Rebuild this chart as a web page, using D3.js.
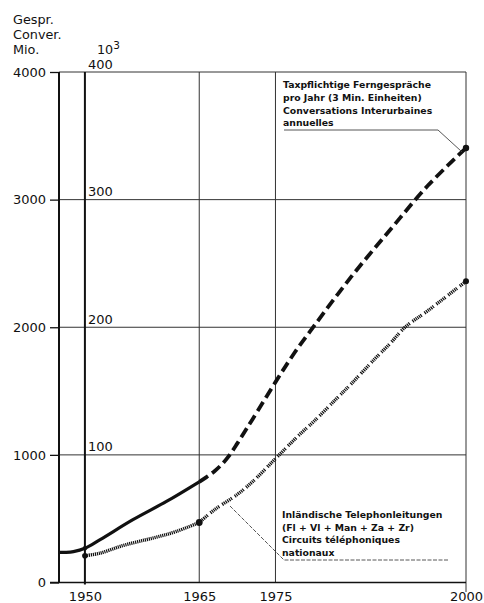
<!DOCTYPE html>
<html>
<head>
<meta charset="utf-8">
<script src="https://cdn.jsdelivr.net/npm/d3@7/dist/d3.min.js"></script>
<style>
  html, body { margin: 0; padding: 0; background: #fff; }
  svg { display: block; }
  text { font-family: "DejaVu Sans", sans-serif; fill: #111; }
</style>
</head>
<body>
<svg id="chart" width="484" height="603"></svg>
<script>
// ---------- data ----------
const convYears = [1946.6, 1947.5, 1948.5, 1950, 1952, 1956.3, 1960.7, 1965, 1966, 1967, 1968, 1969, 1970, 1971, 1972, 1975, 1977.5, 1980, 1985, 1990, 1995, 2000];
const convValues = [236, 236, 242, 268, 336, 492, 635, 789, 828, 872, 928, 1000, 1090, 1185, 1280, 1570, 1800, 2005, 2400, 2760, 3110, 3405]; // Mio.
const circYears = [1950, 1952, 1955, 1958, 1960, 1962, 1965, 1967, 1970, 1972, 1975, 1978, 1980, 1983, 1985, 1988, 1990, 1992, 1995, 2000];
const circValues = [21, 23, 29, 33.5, 36.5, 40, 47, 57, 69, 79, 97, 115, 126, 144, 156, 175, 187, 200, 213, 236]; // 10^3
const xTicks = [1950, 1965, 1975, 2000];
const yTicks = [0, 1000, 2000, 3000, 4000];
const yTicksRight = [100, 200, 300, 400];
const convLabel = ["Taxpflichtige Ferngespräche", "pro Jahr (3 Min. Einheiten)", "Conversations Interurbaines", "annuelles"];
const circLabel = ["Inländische Telephonleitungen", "(Fl + Vl + Man + Za + Zr)", "Circuits téléphoniques", "nationaux"];
const yTitle = ["Gespr.", "Conver.", "Mio."];

// ---------- scales ----------
const svg = d3.select("#chart");
const x = d3.scaleLinear().domain([1946.6, 2000]).range([59, 466]);
const y = d3.scaleLinear().domain([0, 4000]).range([582.5, 72]);
const yR = d3.scaleLinear().domain([0, 400]).range([582.5, 72]);

const conv = convYears.map((d, i) => ({ x: d, v: convValues[i] }));
const circ = circYears.map((d, i) => ({ x: d, v: circValues[i] }));

// ---------- grid ----------
const grid = svg.append("g").attr("stroke", "#333").attr("stroke-width", 1).attr("fill", "none");
grid.selectAll("line.h").data(yTicks.filter(d => d > 0)).join("line")
  .attr("x1", x(1946.6)).attr("x2", x(2000))
  .attr("y1", d => y(d)).attr("y2", d => y(d));
grid.selectAll("line.v").data([1965, 1975]).join("line")
  .attr("x1", d => x(d)).attr("x2", d => x(d))
  .attr("y1", y(4000)).attr("y2", y(0));
grid.append("line").attr("x1", x(2000)).attr("x2", x(2000)).attr("y1", y(4000)).attr("y2", y(0) + 9.5);
// x baseline
svg.append("line").attr("x1", 50).attr("x2", x(2000)).attr("y1", y(0)).attr("y2", y(0))
  .attr("stroke", "#111").attr("stroke-width", 1.6);
// thick verticals
svg.append("line").attr("x1", x(1946.6)).attr("x2", x(1946.6)).attr("y1", y(4000)).attr("y2", y(0))
  .attr("stroke", "#111").attr("stroke-width", 2);
svg.append("line").attr("x1", x(1950)).attr("x2", x(1950)).attr("y1", y(4000)).attr("y2", y(0) + 2)
  .attr("stroke", "#111").attr("stroke-width", 2);

// ---------- axes ----------
const yAxis = svg.append("g").attr("transform", `translate(${x(1946.6)},0)`)
  .call(d3.axisLeft(y).tickValues(yTicks).tickSize(9).tickPadding(4).tickFormat(d3.format("d")));
yAxis.select(".domain").remove();
yAxis.selectAll("line").attr("stroke", "#111").attr("stroke-width", 1.3);
yAxis.selectAll("text").style("font-size", "13px").style("font-family", "DejaVu Sans").attr("fill", "#111");

const yAxisR = svg.append("g").attr("transform", `translate(${x(1950)},0)`)
  .call(d3.axisRight(yR).tickValues(yTicksRight).tickSize(0).tickPadding(3));
yAxisR.select(".domain").remove();
yAxisR.selectAll("text").attr("dy", "-0.3em").style("font-size", "13px").style("font-family", "DejaVu Sans").attr("fill", "#111");

const xAxis = svg.append("g").attr("transform", `translate(0,${y(0)})`)
  .call(d3.axisBottom(x).tickValues(xTicks).tickSize(0).tickPadding(9).tickFormat(d3.format("d")));
xAxis.select(".domain").remove();
xAxis.selectAll("text").style("font-size", "13px").style("font-family", "DejaVu Sans").attr("fill", "#111");

// titles
svg.append("g").selectAll("text").data(yTitle).join("text")
  .attr("x", 13).attr("y", (d, i) => 23.5 + i * 15.3)
  .style("font-size", "12.8px").text(d => d);
const t10 = svg.append("text").attr("x", 97).attr("y", 54).style("font-size", "12.7px");
t10.append("tspan").text("10");
t10.append("tspan").attr("dy", "-5").style("font-size", "10.5px").text("3");

// ---------- lines ----------
const line = d3.line().x(d => x(d.x)).y(d => y(d.v)).curve(d3.curveCatmullRom.alpha(0.5));
const lineR = d3.line().x(d => x(d.x)).y(d => yR(d.v)).curve(d3.curveCatmullRom.alpha(0.5));

svg.append("path").datum(conv.filter(d => d.x <= 1965)).attr("d", line)
  .attr("fill", "none").attr("stroke", "#111").attr("stroke-width", 3.2);
svg.append("path").datum(conv.filter(d => d.x >= 1965)).attr("d", line)
  .attr("fill", "none").attr("stroke", "#111").attr("stroke-width", 3.8).attr("stroke-dasharray", "10.5,5");

svg.append("path").datum(circ.filter(d => d.x <= 1965)).attr("d", lineR)
  .attr("fill", "none").attr("stroke", "#111").attr("stroke-width", 3.4).attr("stroke-dasharray", "1.2,0.8");
svg.append("path").datum(circ.filter(d => d.x >= 1965)).attr("d", lineR)
  .attr("fill", "none").attr("stroke", "#111").attr("stroke-width", 3.4)
  .attr("stroke-dasharray", "1.2,0.8,1.2,0.8,1.2,0.8,1.2,0.8,1.2,0.8,1.2,3.5");

// dots
svg.append("g").selectAll("circle")
  .data([{ x: 1950, yy: yR(21), r: 2.8 }, { x: 1965, yy: yR(47), r: 3.4 }, { x: 2000, yy: yR(236), r: 3 },
         { x: 1950, yy: y(268), r: 2.2 }, { x: 2000, yy: y(3405), r: 3.2 }])
  .join("circle").attr("cx", d => x(d.x)).attr("cy", d => d.yy).attr("r", d => d.r).attr("fill", "#111");

// ---------- annotations ----------
const ann = svg.append("g").style("font-size", "9.3px").style("font-weight", "bold");
ann.selectAll("text.a").data(convLabel).join("text")
  .attr("x", 283).attr("y", (d, i) => 88 + i * 12.8).attr("fill", "#111").text(d => d);
const ann2 = svg.append("g").style("font-size", "9.3px").style("font-weight", "bold");
ann2.selectAll("text").data(circLabel).join("text")
  .attr("x", 282).attr("y", (d, i) => 518 + i * 12.6).attr("fill", "#111").text(d => d);

const lead = svg.append("g").attr("fill", "none").attr("stroke", "#444").attr("stroke-width", 0.9);
lead.append("polyline").attr("points", `284,130 438,130 ${x(2000) - 4},${y(3405) + 4}`);
lead.append("polyline").attr("points", `448,560 284,560 230,506`).attr("stroke-dasharray", "4,1.5");
</script>
</body>
</html>
